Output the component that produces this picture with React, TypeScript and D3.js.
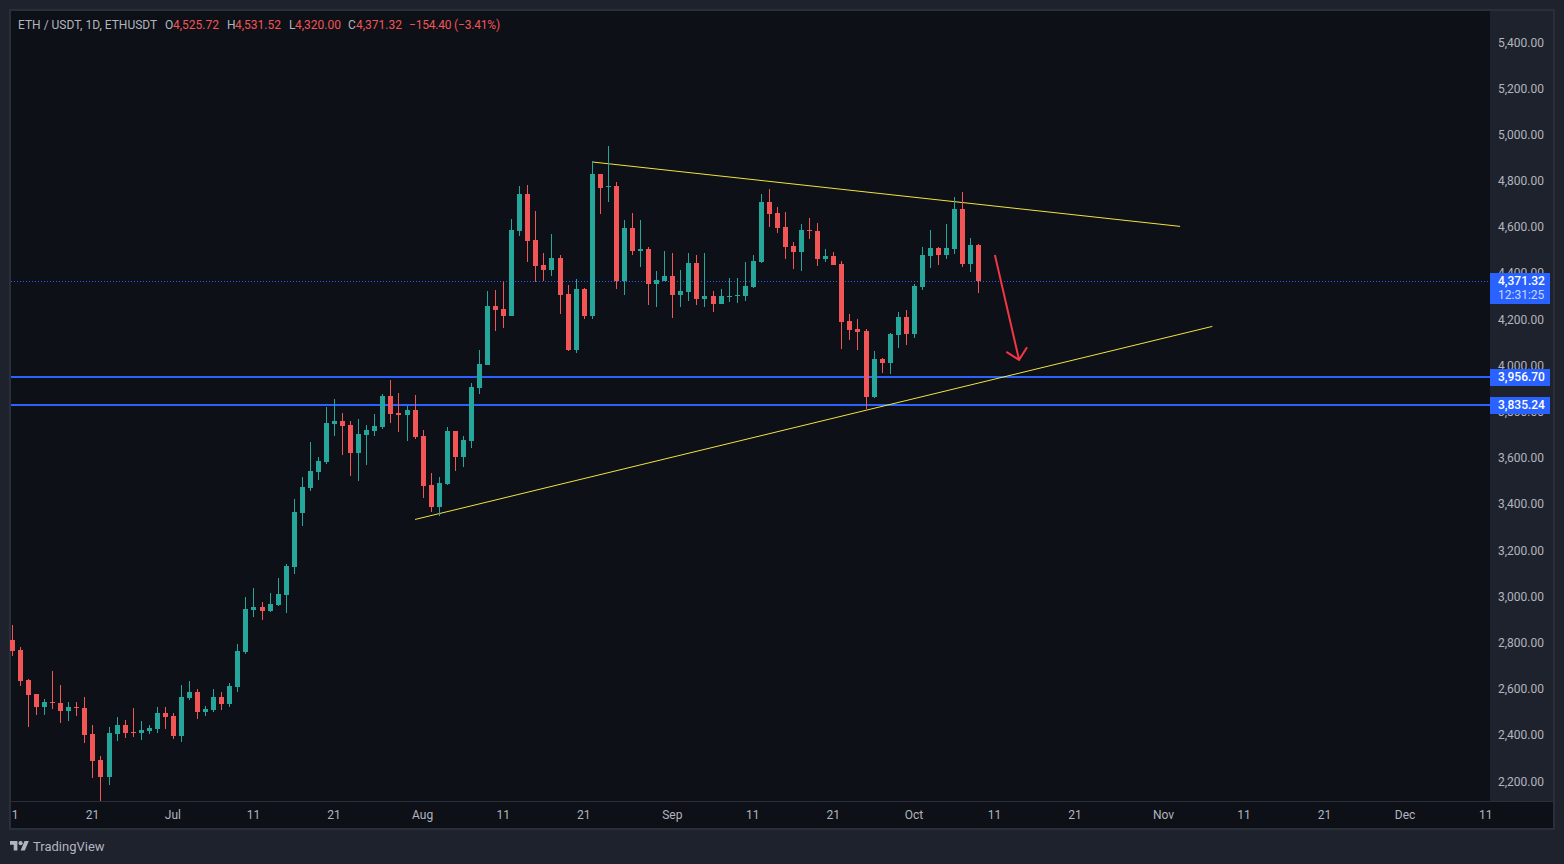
import { useEffect, useRef } from "react";

import * as d3 from "d3";

type Candle = [number, number, number, number]; // open, high, low, close

const juneCandles: Candle[] = [
  [2817, 2882, 2748, 2770], [2774, 2787, 2618, 2640], [2644, 2648, 2440, 2579], [2583, 2583, 2492, 2527],
  [2527, 2562, 2492, 2549], [2549, 2683, 2518, 2544], [2544, 2622, 2458, 2510], [2510, 2549, 2466, 2527],
  [2527, 2549, 2488, 2523], [2523, 2570, 2371, 2406], [2410, 2449, 2220, 2293], [2298, 2315, 2112, 2224],
  [2224, 2440, 2189, 2414], [2410, 2484, 2380, 2449], [2449, 2471, 2393, 2414], [2419, 2523, 2397, 2414],
  [2414, 2466, 2384, 2428], [2423, 2449, 2410, 2436], [2432, 2527, 2414, 2501], [2501, 2527, 2432, 2484],
];
const julyCandles: Candle[] = [
  [2488, 2501, 2389, 2402], [2402, 2622, 2376, 2570], [2566, 2640, 2557, 2592], [2592, 2605, 2475, 2505],
  [2505, 2531, 2488, 2518], [2514, 2605, 2505, 2570], [2570, 2592, 2514, 2540], [2540, 2631, 2527, 2618],
  [2614, 2800, 2592, 2770], [2765, 3003, 2757, 2951], [2947, 3042, 2917, 2960], [2960, 2982, 2904, 2943],
  [2943, 3021, 2938, 2973], [2969, 3086, 2964, 3016], [3012, 3146, 2934, 3138], [3133, 3428, 3103, 3371],
  [3367, 3523, 3311, 3480], [3475, 3675, 3462, 3549], [3545, 3610, 3510, 3592], [3588, 3826, 3579, 3757],
  [3752, 3861, 3701, 3765], [3765, 3800, 3618, 3744], [3748, 3765, 3527, 3627], [3627, 3774, 3506, 3709],
  [3705, 3748, 3575, 3727], [3722, 3796, 3701, 3744], [3739, 3882, 3731, 3874], [3874, 3941, 3757, 3796],
  [3800, 3887, 3718, 3791], [3791, 3830, 3679, 3813], [3813, 3878, 3688, 3696],
];
const augustCandles: Candle[] = [
  [3701, 3727, 3432, 3484], [3488, 3540, 3371, 3393], [3393, 3523, 3354, 3497], [3493, 3739, 3490, 3722],
  [3722, 3724, 3549, 3610], [3610, 3701, 3566, 3683], [3679, 3930, 3649, 3913], [3908, 4073, 3882, 4012],
  [4008, 4328, 4008, 4263], [4263, 4333, 4155, 4246], [4250, 4367, 4168, 4220], [4220, 4640, 4218, 4592],
  [4588, 4783, 4566, 4748], [4748, 4787, 4454, 4545], [4549, 4675, 4367, 4437], [4441, 4493, 4372, 4419],
  [4419, 4575, 4393, 4471], [4471, 4484, 4229, 4311], [4315, 4354, 4069, 4073], [4073, 4380, 4060, 4337],
  [4337, 4341, 4207, 4220], [4220, 4891, 4207, 4835], [4835, 4837, 4662, 4774], [4779, 4956, 4714, 4783],
  [4783, 4800, 4337, 4372], [4372, 4636, 4311, 4601], [4601, 4666, 4484, 4502], [4502, 4636, 4432, 4510],
  [4510, 4519, 4268, 4359], [4359, 4415, 4259, 4376], [4372, 4502, 4370, 4393],
];
const septemberCandles: Candle[] = [
  [4393, 4493, 4211, 4311], [4311, 4419, 4259, 4328], [4324, 4493, 4285, 4450], [4450, 4484, 4268, 4294],
  [4294, 4493, 4259, 4307], [4307, 4328, 4237, 4272], [4272, 4337, 4270, 4307], [4302, 4385, 4281, 4307],
  [4307, 4385, 4276, 4311], [4307, 4454, 4285, 4350], [4346, 4484, 4341, 4458], [4454, 4748, 4450, 4714],
  [4714, 4770, 4606, 4662], [4666, 4692, 4580, 4601], [4606, 4670, 4467, 4519], [4523, 4540, 4424, 4497],
  [4497, 4618, 4415, 4593], [4593, 4644, 4553, 4588], [4588, 4623, 4437, 4467], [4467, 4510, 4454, 4480],
  [4480, 4497, 4439, 4441], [4445, 4458, 4077, 4194], [4198, 4229, 4116, 4160], [4164, 4207, 4073, 4151],
  [4155, 4164, 3817, 3869], [3869, 4069, 3867, 4034], [4034, 4038, 3973, 4017], [4017, 4146, 3969, 4142],
  [4138, 4237, 4082, 4216], [4216, 4246, 4095, 4142],
];
const octoberCandles: Candle[] = [
  [4142, 4359, 4125, 4350], [4346, 4519, 4333, 4484], [4480, 4593, 4428, 4515], [4515, 4519, 4441, 4484],
  [4484, 4618, 4467, 4515], [4510, 4735, 4489, 4683], [4683, 4757, 4432, 4445], [4445, 4558, 4411, 4527],
  [4525.72, 4531.52, 4320, 4371.32],
];

const firstDay = "2025-06-11";
const lastDay = "2025-12-11";

const priceTicks = [5400, 5200, 5000, 4800, 4600, 4400, 4200, 4000, 3800, 3600, 3400, 3200, 3000, 2800, 2600, 2400, 2200];

const timeTickDates = [
  "2025-06-11", "2025-06-21", "2025-07-01", "2025-07-11", "2025-07-21", "2025-08-01", "2025-08-11",
  "2025-08-21", "2025-09-01", "2025-09-11", "2025-09-21", "2025-10-01", "2025-10-11", "2025-10-21",
  "2025-11-01", "2025-11-11", "2025-11-21", "2025-12-01", "2025-12-11",
];
const timeTickLabels = ["11", "21", "Jul", "11", "21", "Aug", "11", "21", "Sep", "11", "21", "Oct", "11", "21", "Nov", "11", "21", "Dec", "11"];

const lastPrice = 4371.32;
const countdown = "12:31:25";
const supportLevels = [3956.7, 3835.24];

const upperTrend: [string, number][] = [["2025-08-22", 4887], ["2025-11-03", 4608]];
const lowerTrend: [string, number][] = [["2025-07-31", 3339], ["2025-11-07", 4175]];
const arrowPath: [string, number][] = [["2025-10-11", 4484], ["2025-10-14", 4030]];

const FONT = "Roboto, sans-serif";
const BG = "#1e222d";
const PANE = "#0d1017";
const BORDER = "#2a2e39";
const UP = "#26a69a";
const DOWN = "#f15555";
const BLUE = "#2962ff";
const TEXT = "#b2b5be";

export default function App() {
  const svgRef = useRef<SVGSVGElement>(null);

  useEffect(() => {
    if (!svgRef.current) return;
    const svg = d3.select(svgRef.current);
    svg.selectAll("*").remove();

    const day = d3.utcParse("%Y-%m-%d");
    const x = d3
      .scaleUtc()
      .domain([day(firstDay)!, day(lastDay)!])
      .range([12.38, 1486.17]);
    const y = d3.scaleLinear().domain([2200, 5400]).range([782.5, 43.5]);

    const candles = [...juneCandles, ...julyCandles, ...augustCandles, ...septemberCandles, ...octoberCandles].map(
      (c, i) => ({
        date: d3.utcDay.offset(day(firstDay)!, i),
        open: c[0],
        high: c[1],
        low: c[2],
        close: c[3],
      }),
    );

    // Frame
    svg.append("rect").attr("width", 1564).attr("height", 864).attr("fill", BG);
    svg.append("rect").attr("x", 9).attr("y", 9).attr("width", 1546).attr("height", 821).attr("fill", BORDER);
    svg.append("rect").attr("x", 11).attr("y", 11).attr("width", 1479).attr("height", 790).attr("fill", PANE);
    svg.append("rect").attr("x", 11).attr("y", 802).attr("width", 1542).attr("height", 26).attr("fill", PANE);
    svg.append("rect").attr("x", 1490).attr("y", 11).attr("width", 63).attr("height", 790).attr("fill", BG);

    const defs = svg.append("defs");
    defs.append("clipPath").attr("id", "pane-clip").append("rect").attr("x", 10).attr("y", 11).attr("width", 1480).attr("height", 790);
    defs.append("clipPath").attr("id", "time-clip").append("rect").attr("x", 11).attr("y", 802).attr("width", 1542).attr("height", 26);

    const pane = svg.append("g").attr("clip-path", "url(#pane-clip)");

    // Last price line and horizontal levels
    const lastY = Math.floor(y(lastPrice)) + 0.5;
    pane
      .append("line")
      .attr("x1", 11)
      .attr("x2", 1490)
      .attr("y1", lastY)
      .attr("y2", lastY)
      .attr("stroke", BLUE)
      .attr("stroke-dasharray", "1 2");

    pane
      .selectAll(".level")
      .data(supportLevels)
      .join("line")
      .attr("class", "level")
      .attr("x1", 11)
      .attr("x2", 1490)
      .attr("y1", (d) => Math.round(y(d)))
      .attr("y2", (d) => Math.round(y(d)))
      .attr("stroke", BLUE)
      .attr("stroke-width", 2);

    // Trend lines
    const line = d3
      .line<[string, number]>()
      .x((d) => x(day(d[0])!))
      .y((d) => y(d[1]));

    [upperTrend, lowerTrend].forEach((t) => {
      pane.append("path").attr("d", line(t)).attr("fill", "none").attr("stroke", "#f2e33f").attr("stroke-width", 1);
    });

    // Candles
    const candle = pane
      .selectAll(".candle")
      .data(candles)
      .join("g")
      .attr("class", "candle")
      .attr("fill", (d) => (d.close >= d.open ? UP : DOWN));

    candle
      .append("rect")
      .attr("x", (d) => Math.floor(x(d.date)))
      .attr("width", 1)
      .attr("y", (d) => Math.round(y(d.high)))
      .attr("height", (d) => Math.round(y(d.low)) - Math.round(y(d.high)));

    candle
      .append("rect")
      .attr("x", (d) => Math.floor(x(d.date)) - 2)
      .attr("width", 5)
      .attr("y", (d) => Math.round(y(Math.max(d.open, d.close))))
      .attr("height", (d) =>
        Math.max(1, Math.round(y(Math.min(d.open, d.close))) - Math.round(y(Math.max(d.open, d.close)))),
      );

    // Red arrow
    const [ax0, ay0] = [x(day(arrowPath[0][0])!), y(arrowPath[0][1])];
    const [ax1, ay1] = [x(day(arrowPath[1][0])!), y(arrowPath[1][1])];
    const angle = Math.atan2(ay0 - ay1, ax0 - ax1);
    const wing = (a: number) => [ax1 + 15 * Math.cos(angle + a), ay1 + 15 * Math.sin(angle + a)];
    const [w1, w2] = [wing(Math.PI / 4), wing(-Math.PI / 4)];
    pane
      .append("path")
      .attr("d", `M${ax0},${ay0}L${ax1},${ay1}M${w1[0]},${w1[1]}L${ax1},${ay1}L${w2[0]},${w2[1]}`)
      .attr("fill", "none")
      .attr("stroke", "#f23645")
      .attr("stroke-width", 2);

    // Price axis
    const priceAxis = svg
      .append("g")
      .attr("transform", "translate(1490,0)")
      .call(
        d3
          .axisRight(y)
          .tickValues(priceTicks)
          .offset(0)
          .tickSize(0)
          .tickPadding(8)
          .tickFormat((d) => d3.format(",.2f")(d as number)),
      );
    priceAxis.select(".domain").remove();
    priceAxis
      .selectAll("text")
      .attr("fill", TEXT)
      .attr("font-size", 12)
      .attr("font-family", FONT)
      .attr("dy", "0.25em");

    // Time axis
    const timeAxis = svg
      .append("g")
      .attr("clip-path", "url(#time-clip)")
      .append("g")
      .attr("transform", "translate(0,801)")
      .call(
        d3
          .axisBottom(x)
          .tickValues(timeTickDates.map((d) => day(d)!))
          .offset(0)
          .tickSize(0)
          .tickPadding(9)
          .tickFormat((_, i) => timeTickLabels[i]),
      );
    timeAxis.select(".domain").remove();
    timeAxis
      .selectAll("text")
      .attr("fill", TEXT)
      .attr("font-size", 12)
      .attr("font-family", FONT)
      .attr("transform", "translate(-0.5,0)");

    // Price labels
    const labels = svg.append("g").attr("font-family", FONT).attr("font-size", 12);
    labels.append("rect").attr("x", 1490).attr("y", 273).attr("width", 60).attr("height", 31).attr("fill", BLUE);
    labels
      .append("text")
      .attr("x", 1498)
      .attr("y", 285)
      .attr("fill", "#fff")
      .attr("font-weight", 500)
      .text(d3.format(",.2f")(lastPrice));
    labels.append("text").attr("x", 1498).attr("y", 299).attr("fill", "#c9d6ff").text(countdown);

    supportLevels.forEach((level) => {
      const ly = Math.round(y(level));
      labels.append("rect").attr("x", 1490).attr("y", ly - 8).attr("width", 60).attr("height", 17).attr("fill", BLUE);
      labels
        .append("text")
        .attr("x", 1498)
        .attr("y", ly + 4)
        .attr("fill", "#fff")
        .attr("font-weight", 500)
        .text(d3.format(",.2f")(level));
    });

    // Legend
    const legend = svg.append("g").attr("font-family", FONT).attr("font-size", 12);
    const legendItems: [number, string, string, number][] = [
      [18, "ETH / USDT, 1D, ETHUSDT", TEXT, 0],
      [165, "O", TEXT, 0],
      [173, "4,525.72", DOWN, 0],
      [227, "H", TEXT, 0],
      [235, "4,531.52", DOWN, 0],
      [289, "L", TEXT, 0],
      [295, "4,320.00", DOWN, 0],
      [348, "C", TEXT, 0],
      [356, "4,371.32", DOWN, 0],
      [409, "\u2212154.40 (\u22123.41%)", DOWN, -0.2],
    ];
    legendItems.forEach(([lx, label, fill, spacing]) => {
      legend
        .append("text")
        .attr("x", lx)
        .attr("y", 28.5)
        .attr("fill", fill)
        .attr("letter-spacing", spacing)
        .text(label);
    });

    // TradingView mark
    const logo = svg.append("g").attr("transform", "translate(10,838.9) scale(0.53)").attr("fill", TEXT);
    logo.append("path").attr("d", "M14 22H7V11H0V4h14v18zM28 22h-8l7.5-18h8L28 22z");
    logo.append("circle").attr("cx", 20).attr("cy", 8).attr("r", 4);
    svg
      .append("text")
      .attr("x", 33)
      .attr("y", 851)
      .attr("fill", TEXT)
      .attr("font-family", FONT)
      .attr("font-size", 13)
      .text("TradingView");
  }, []);

  return (
    <svg
      ref={svgRef}
      width={1564}
      height={864}
      style={{ position: "absolute", left: 0, top: 0, display: "block" }}
    />
  );
}
